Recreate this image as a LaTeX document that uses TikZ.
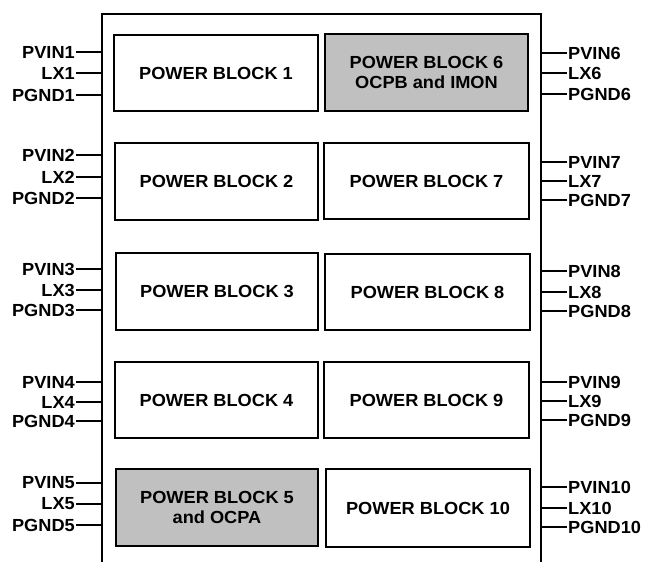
\documentclass[tikz,border=0pt]{standalone}
\usepackage{fontspec}
\setmainfont[FakeStretch=1.04]{Liberation Sans}
\definecolor{blkgray}{RGB}{192,192,192}
\begin{document}
\begin{tikzpicture}[x=1pt,y=-1pt,
  wire/.style={line width=2pt},
  blk/.style={draw,line width=2pt,fill=white,align=center,inner sep=0pt,
    font=\fontsize{17.5}{20}\selectfont\bfseries},
  gblk/.style={blk,fill=blkgray},
  pinl/.style={anchor=east,inner sep=1pt,font=\fontsize{17.5}{20}\selectfont\bfseries},
  pinr/.style={anchor=west,inner sep=1pt,font=\fontsize{17.5}{20}\selectfont\bfseries}]
\useasboundingbox (0,0) rectangle (648,562);
% outer package outline (open at the bottom)
\draw[wire] (102,562) -- (102,14) -- (541,14) -- (541,562);
\coordinate (L) at (102,0);
\coordinate (R) at (541,0);
% blocks
\node[blk, minimum width=204, minimum height=76] (b1) at (216,73) {POWER BLOCK 1};
\node[blk, minimum width=203, minimum height=77] (b2) at (216.5,181.5) {POWER BLOCK 2};
\node[blk, minimum width=202, minimum height=77] (b3) at (217,291.5) {POWER BLOCK 3};
\node[blk, minimum width=203, minimum height=76] (b4) at (216.5,400) {POWER BLOCK 4};
\node[gblk, minimum width=202, minimum height=77] (b5) at (217,507.5) {POWER BLOCK 5\\and OCPA};
\node[gblk, minimum width=203, minimum height=77] (b6) at (426.5,72.5) {POWER BLOCK 6\\OCPB and IMON};
\node[blk, minimum width=205, minimum height=76] (b7) at (426.5,181) {POWER BLOCK 7};
\node[blk, minimum width=205, minimum height=76] (b8) at (427.5,292) {POWER BLOCK 8};
\node[blk, minimum width=205, minimum height=76] (b9) at (426.5,400) {POWER BLOCK 9};
\node[blk, minimum width=204, minimum height=78] (b10) at (428,508) {POWER BLOCK 10};
% left pins
\foreach \i/\a/\b/\c in {1/52/73/95, 2/155/177/198, 3/269/290/310, 4/382/402/421, 5/483/504/525} {
  \node[pinl] (pvin\i) at (76,\a) {PVIN\i};
  \node[pinl] (lx\i) at (76,\b) {LX\i};
  \node[pinl] (pgnd\i) at (76,\c) {PGND\i};
  \draw[wire] (pvin\i.east) -- (pvin\i.east -| L);
  \draw[wire] (lx\i.east) -- (lx\i.east -| L);
  \draw[wire] (pgnd\i.east) -- (pgnd\i.east -| L);
}
% right pins
\foreach \i/\a/\b/\c in {6/53/73/94, 7/162/181/200, 8/271/292/311, 9/382/401/420, 10/487/508/527} {
  \node[pinr] (pvin\i) at (567,\a) {PVIN\i};
  \node[pinr] (lx\i) at (567,\b) {LX\i};
  \node[pinr] (pgnd\i) at (567,\c) {PGND\i};
  \draw[wire] (pvin\i.west) -- (pvin\i.west -| R);
  \draw[wire] (lx\i.west) -- (lx\i.west -| R);
  \draw[wire] (pgnd\i.west) -- (pgnd\i.west -| R);
}
\end{tikzpicture}
\end{document}
